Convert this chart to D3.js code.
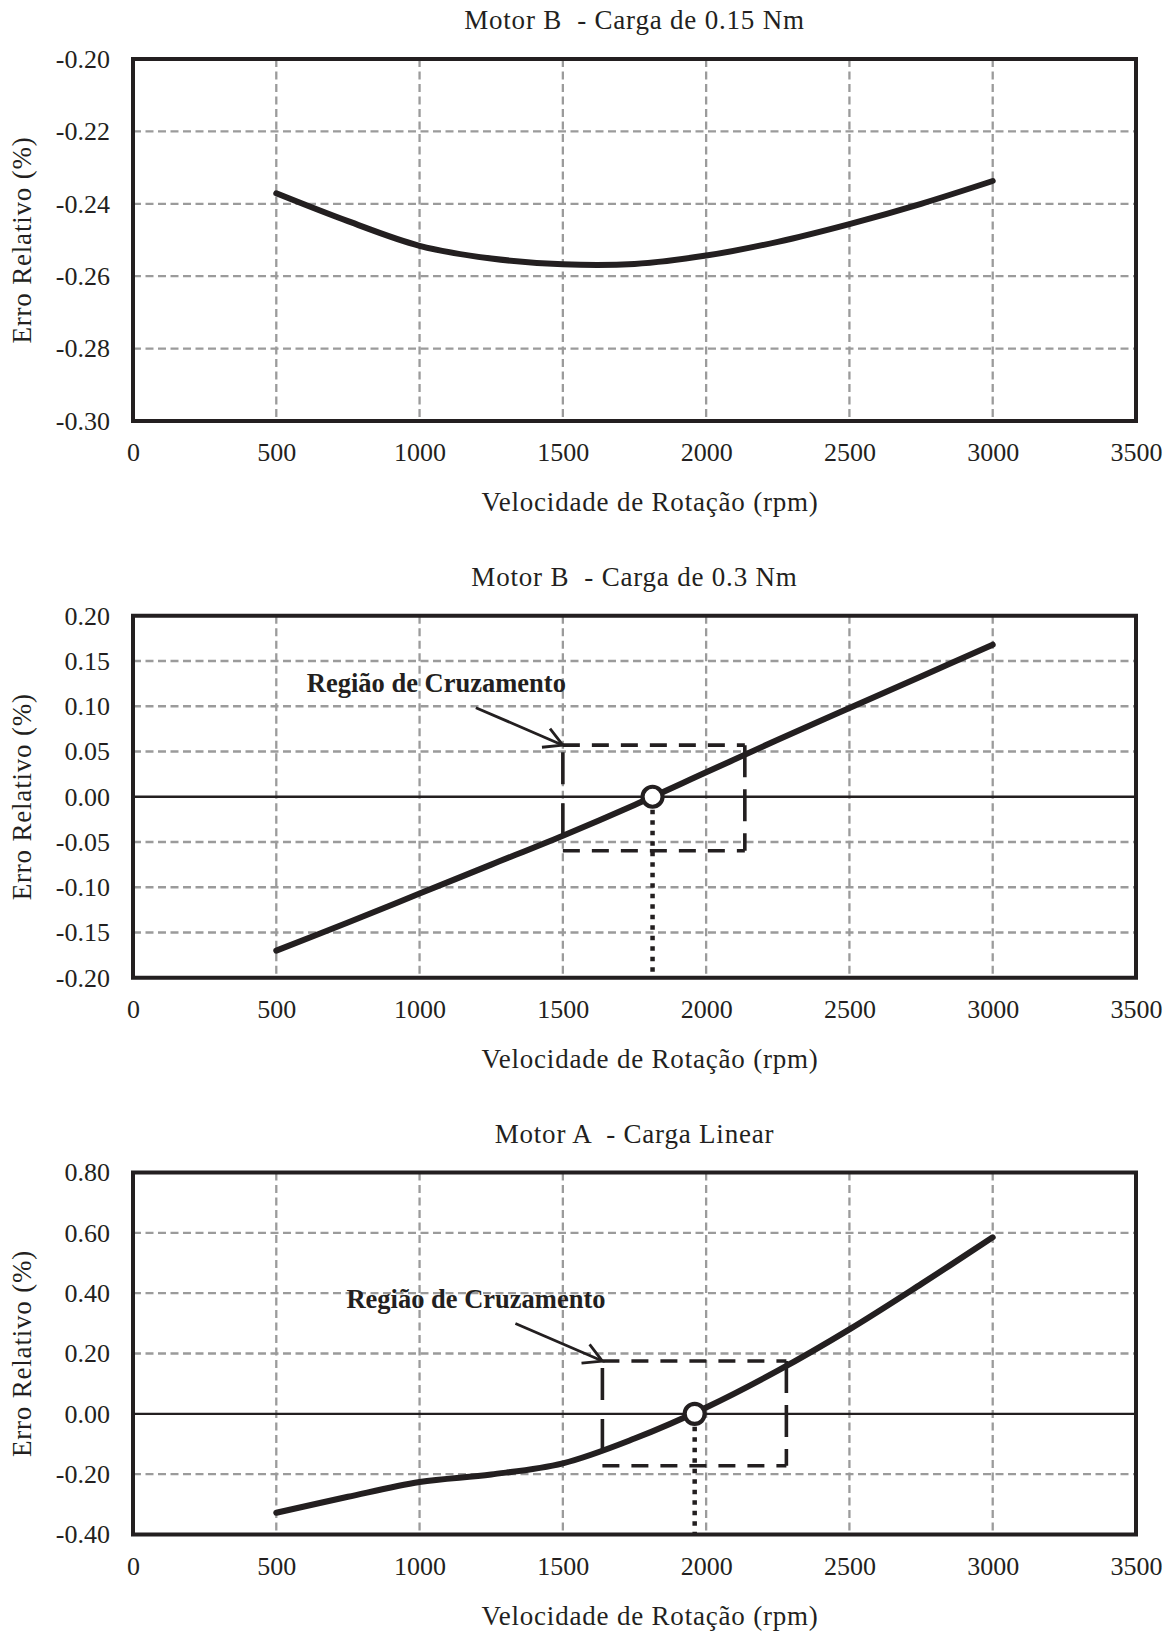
<!DOCTYPE html>
<html>
<head>
<meta charset="utf-8">
<script src="https://cdn.jsdelivr.net/npm/d3@7"></script>
<style>
  html, body { margin: 0; padding: 0; background: #ffffff; }
  svg { display: block; }
  .serif { font-family: "Liberation Serif", "Times New Roman", serif; fill: #231f20; }
</style>
</head>
<body>
<svg id="chart" width="1170" height="1632"></svg>
<script>
// Rotational speed samples (rpm) shared by every curve
const rpm = [500, 750, 1000, 1250, 1500, 1750, 2000, 2250, 2500, 2750, 3000];

// Relative error (%) measured for each test
const erroMotorB015 = [-0.2371, -0.2448, -0.2516, -0.2551, -0.2567, -0.2566, -0.2543, -0.2505, -0.2456, -0.2400, -0.2337];
const erroMotorB03  = [-0.170, -0.139, -0.107, -0.075, -0.043, -0.009, 0.027, 0.063, 0.098, 0.133, 0.168];
const erroMotorA    = [-0.328, -0.275, -0.226, -0.201, -0.164, -0.082, 0.021, 0.143, 0.280, 0.430, 0.585];

// Axis ticks
const xTicks     = [0, 500, 1000, 1500, 2000, 2500, 3000, 3500];
const yTicksB015 = [-0.30, -0.28, -0.26, -0.24, -0.22, -0.20];
const yTicksB03  = [-0.20, -0.15, -0.10, -0.05, 0.00, 0.05, 0.10, 0.15, 0.20];
const yTicksA    = [-0.40, -0.20, 0.00, 0.20, 0.40, 0.60, 0.80];

const titles = ["Motor B  - Carga de 0.15 Nm", "Motor B  - Carga de 0.3 Nm", "Motor A  - Carga Linear"];
const xTitle = "Velocidade de Rotação (rpm)";
const yTitle = "Erro Relativo (%)";
const regiaoLabel = "Região de Cruzamento";

// Zero-crossing speeds and the highlighted crossing regions
const cruzamentoRpm = [1813, 1960];
const regiaoRpmB03  = [1500, 2135];
const regiaoErroB03 = [-0.0596, 0.057];
const regiaoRpmA    = [1638, 2280];
const regiaoErroA   = [-0.172, 0.175];

const panels = [
  { title: titles[0], values: erroMotorB015, yTicks: yTicksB015 },
  { title: titles[1], values: erroMotorB03, yTicks: yTicksB03, zero: true,
    cross: cruzamentoRpm[0], regionRpm: regiaoRpmB03, regionErro: regiaoErroB03 },
  { title: titles[2], values: erroMotorA, yTicks: yTicksA, zero: true,
    cross: cruzamentoRpm[1], regionRpm: regiaoRpmA, regionErro: regiaoErroA }
];

const svg = d3.select("#chart");
const INK = "#231f20";
const GRID = "#9b9b9b";
const plotLeft = 133, plotRight = 1136;
const plotHeight = 362, firstTop = 59, panelStep = 556.75;

const x = d3.scaleLinear().domain([0, 3500]).range([plotLeft, plotRight]);
const fmtY = d => d.toFixed(2);

panels.forEach((p, i) => {
  const top = firstTop + i * panelStep;
  const bottom = top + plotHeight;
  const y = d3.scaleLinear().domain(d3.extent(p.yTicks)).range([bottom, top]);
  const g = svg.append("g");

  // dashed grey grid
  g.append("g").selectAll("line")
    .data(xTicks.filter(t => t > 0 && t < 3500))
    .join("line")
    .attr("x1", d => x(d)).attr("x2", d => x(d))
    .attr("y1", top).attr("y2", bottom)
    .attr("stroke", GRID).attr("stroke-width", 2.3)
    .attr("stroke-dasharray", "8 4.5");

  g.append("g").selectAll("line")
    .data(p.yTicks.slice(1, -1).filter(t => !(p.zero && t === 0)))
    .join("line")
    .attr("x1", plotLeft).attr("x2", plotRight)
    .attr("y1", d => y(d)).attr("y2", d => y(d))
    .attr("stroke", GRID).attr("stroke-width", 2.3)
    .attr("stroke-dasharray", "8 4.5");

  // solid zero line
  if (p.zero) {
    g.append("line")
      .attr("x1", plotLeft).attr("x2", plotRight)
      .attr("y1", y(0)).attr("y2", y(0))
      .attr("stroke", INK).attr("stroke-width", 2.4);
  }

  // crossing region box
  if (p.regionRpm) {
    const bx0 = x(p.regionRpm[0]), bx1 = x(p.regionRpm[1]);
    const by0 = y(p.regionErro[1]), by1 = y(p.regionErro[0]);
    const box = g.append("g").attr("stroke", INK).attr("stroke-width", 3.6).attr("fill", "none");
    box.append("line").attr("x1", bx0).attr("x2", bx1).attr("y1", by0).attr("y2", by0)
      .attr("stroke-dasharray", "17 12");
    box.append("line").attr("x1", bx0).attr("x2", bx1).attr("y1", by1).attr("y2", by1)
      .attr("stroke-dasharray", "17 12");
    box.append("line").attr("x1", bx0).attr("x2", bx0).attr("y1", by0).attr("y2", by1)
      .attr("stroke-dasharray", "0 7 32 12");
    box.append("line").attr("x1", bx1).attr("x2", bx1).attr("y1", by0).attr("y2", by1)
      .attr("stroke-dasharray", "32 12");

    // label and arrow pointing at the box corner
    const ax = bx0, ay = by0;
    const sx = ax - 87, sy = ay - 37.5;
    g.append("line").attr("x1", sx).attr("y1", sy).attr("x2", ax).attr("y2", ay)
      .attr("stroke", INK).attr("stroke-width", 2.8);
    const ang = Math.atan2(ay - sy, ax - sx);
    const head = 21, spread = Math.PI / 6.2;
    const p1 = [ax - head * Math.cos(ang - spread), ay - head * Math.sin(ang - spread)];
    const p2 = [ax - head * Math.cos(ang + spread), ay - head * Math.sin(ang + spread)];
    g.append("path")
      .attr("d", `M${p1[0]},${p1[1]}L${ax},${ay}L${p2[0]},${p2[1]}`)
      .attr("fill", "none").attr("stroke", INK).attr("stroke-width", 2.8);
    g.append("text").attr("class", "serif")
      .attr("x", ax - 256).attr("y", ay - 53.5)
      .attr("font-size", 26.5).attr("font-weight", "bold")
      .text(regiaoLabel);
  }

  // error curve
  const line = d3.line()
    .x((d, k) => x(rpm[k]))
    .y(d => y(d))
    .curve(d3.curveCatmullRom.alpha(0.5));
  g.append("path")
    .datum(p.values)
    .attr("d", line)
    .attr("fill", "none").attr("stroke", INK)
    .attr("stroke-width", 6).attr("stroke-linecap", "round").attr("stroke-linejoin", "round");

  // zero-crossing marker with dotted drop line
  if (p.cross) {
    const cx = x(p.cross), cy = y(0), r = 10;
    g.append("line")
      .attr("x1", cx).attr("x2", cx).attr("y1", cy + r + 3).attr("y2", bottom)
      .attr("stroke", INK).attr("stroke-width", 4.5).attr("stroke-dasharray", "4.5 6");
    g.append("circle")
      .attr("cx", cx).attr("cy", cy).attr("r", r)
      .attr("fill", "#ffffff").attr("stroke", INK).attr("stroke-width", 4.2);
  }

  // plot frame
  g.append("rect")
    .attr("x", plotLeft).attr("y", top)
    .attr("width", plotRight - plotLeft).attr("height", plotHeight)
    .attr("fill", "none").attr("stroke", INK).attr("stroke-width", 4);

  // axes
  const yAxis = g.append("g")
    .attr("transform", `translate(${plotLeft},0)`)
    .call(d3.axisLeft(y).tickValues(p.yTicks).tickSize(0).tickPadding(23).tickFormat(fmtY));
  const xAxis = g.append("g")
    .attr("transform", `translate(0,${bottom})`)
    .call(d3.axisBottom(x).tickValues(xTicks).tickSize(0).tickPadding(22).tickFormat(d3.format("d")));
  [yAxis, xAxis].forEach(a => {
    a.select(".domain").remove();
    a.selectAll("text")
      .attr("class", "serif")
      .attr("font-size", 26)
      .attr("fill", INK);
  });

  // titles
  g.append("text").attr("class", "serif")
    .attr("x", (plotLeft + plotRight) / 2).attr("y", top - 30)
    .attr("text-anchor", "middle").attr("font-size", 27)
    .attr("letter-spacing", 0.8).style("white-space", "pre")
    .text(p.title);
  g.append("text").attr("class", "serif")
    .attr("x", 650).attr("y", bottom + 90)
    .attr("text-anchor", "middle").attr("font-size", 27)
    .attr("letter-spacing", 0.8)
    .text(xTitle);
  g.append("text").attr("class", "serif")
    .attr("transform", `translate(31,${(top + bottom) / 2}) rotate(-90)`)
    .attr("text-anchor", "middle").attr("font-size", 27)
    .attr("letter-spacing", 0.8)
    .text(yTitle);
});
</script>
</body>
</html>
